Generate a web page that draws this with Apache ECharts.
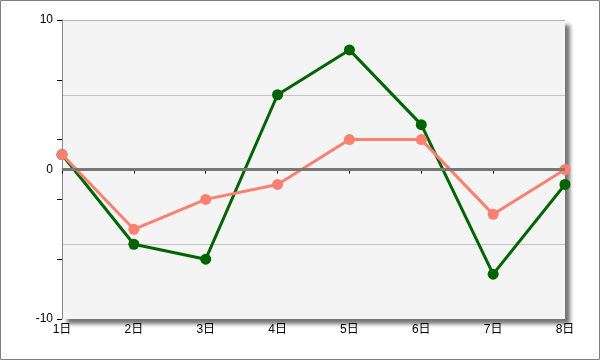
<!DOCTYPE html>
<html><head><meta charset="utf-8">
<script src="https://cdn.jsdelivr.net/npm/echarts@6/dist/echarts.min.js"></script>
<style>html,body{margin:0;padding:0;background:#fff}#c{width:600px;height:360px}</style>
</head><body><div id="c"></div>
<script>
const categories = ['1日','2日','3日','4日','5日','6日','7日','8日'];
const greenValues = [1, -5, -6, 5, 8, 3, -7, -1];
const salmonValues = [1, -4, -2, -1, 2, 2, -3, 0];
const yLabels = [-10, 0, 10];

const font = "'Liberation Sans','Noto Sans CJK JP',sans-serif";
const chart = echarts.init(document.getElementById('c'), null, {renderer:'canvas'});
chart.setOption({
  animation: false,
  backgroundColor: '#fff',
  graphic: [{type:'rect', shape:{x:0.5,y:0.5,width:599,height:359}, style:{fill:'none', stroke:'#808080', lineWidth:1}, z:100}],
  grid: {left:62, right:35, top:20, bottom:41, show:true, backgroundColor:'#f4f4f4', borderWidth:0,
    shadowColor:'rgba(0,0,0,0.55)', shadowBlur:4, shadowOffsetX:5, shadowOffsetY:5},
  xAxis: {type:'category', data:categories, boundaryGap:false,
    axisLine:{show:true, lineStyle:{color:'#a0a0a0', width:1}},
    axisTick:{show:true, alignWithLabel:true, length:4, lineStyle:{color:'#000'}},
    axisLabel:{color:'#000', fontSize:12, fontFamily:font, margin:5},
    splitLine:{show:false}},
  yAxis: [
    {type:'value', min:-10, max:10, interval:5,
      axisLine:{show:true, lineStyle:{color:'#888', width:1}},
      axisTick:{show:false},
      axisLabel:{color:'#000', fontSize:12, fontFamily:font, margin:9,
        formatter: v => yLabels.indexOf(v) >= 0 ? String(v) : ''},
      splitLine:{show:true, lineStyle:{color:['rgba(0,0,0,0)','#c4c4c4','rgba(0,0,0,0)','#c4c4c4','#b4b4b4'], width:1}}},
    {type:'value', min:-10, max:10, interval:4, position:'left',
      axisLine:{show:false}, axisLabel:{show:false}, splitLine:{show:false},
      axisTick:{show:true, length:5, lineStyle:{color:'#000'}}}
  ],
  series: [
    {type:'line', data:[], z:1, silent:true,
      markLine:{silent:true, symbol:'none', label:{show:false}, lineStyle:{color:'#777', width:3, type:'solid'},
        data:[{yAxis:0}]}},
    {type:'line', data:greenValues, z:2, symbol:'circle', symbolSize:11,
      lineStyle:{color:'#006400', width:3}, itemStyle:{color:'#006400'}},
    {type:'line', data:salmonValues, z:3, symbol:'circle', symbolSize:11,
      lineStyle:{color:'#fa8072', width:3}, itemStyle:{color:'#fa8072'}}
  ]
});
</script></body></html>
